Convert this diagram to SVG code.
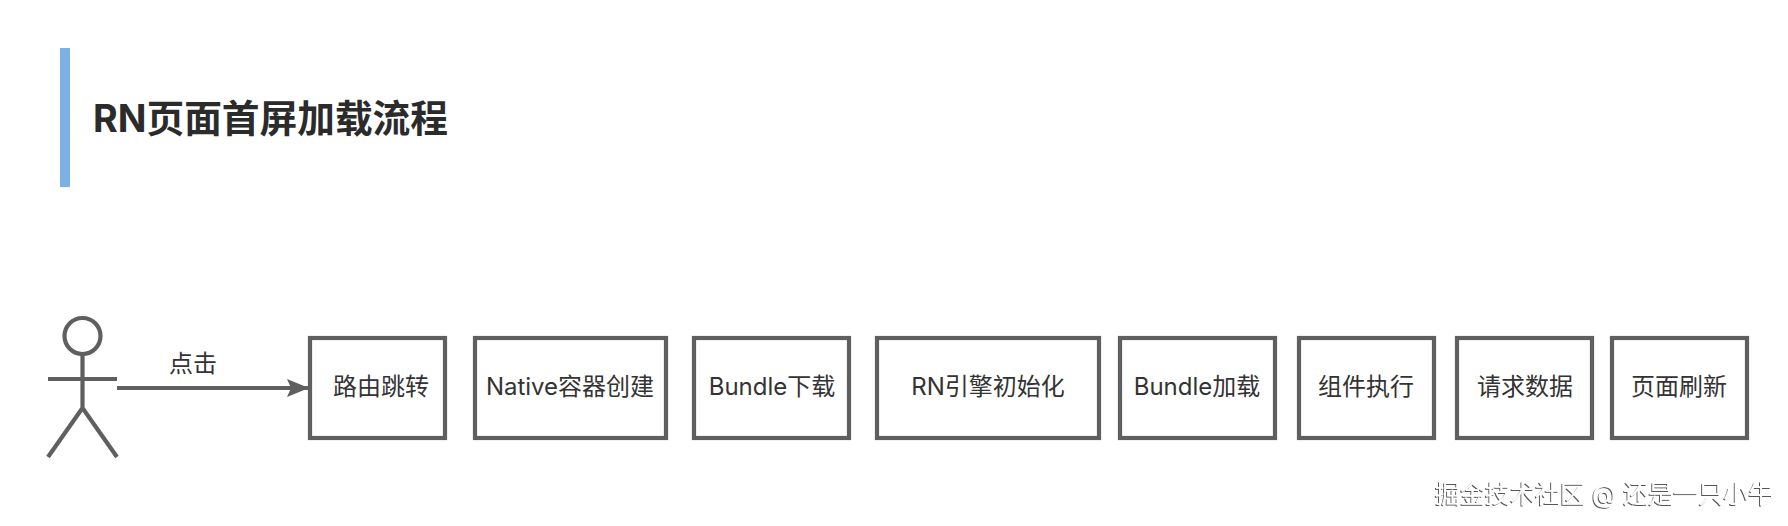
<svg xmlns="http://www.w3.org/2000/svg" width="1788" height="526" viewBox="0 0 1788 526">
<style>
text{font-family:"Inter","Noto Sans CJK SC",sans-serif;fill:#333;font-size:24px}
.t{text-anchor:middle}
.b{fill:#fff;stroke:#5f5f5f;stroke-width:4.2}
.l{fill:none;stroke:#5f5f5f;stroke-width:4.2}
</style>
<defs>
<marker id="a" markerUnits="userSpaceOnUse" markerWidth="24" markerHeight="20" refX="22" refY="10" orient="auto"><path d="M0 1L22 10L0 19L4 10Z" fill="#5f5f5f"/></marker>
<filter id="s" x="-5%" y="-20%" width="110%" height="140%"><feDropShadow dx="-1" dy="1" stdDeviation="0.6" flood-color="#555"/></filter>
</defs>
<rect id="title-bar" x="60" y="48" width="10" height="139" fill="#7db1e5"/>
<g id="title"><text x="93" y="132" style="font-size:37.700px;font-weight:700;fill:#2b2b2b">RN页面首屏加载流程</text></g>
<g id="actor" class="l">
<circle cx="82.500" cy="336" r="18"/>
<path d="M82.500 354V408M48 379H117M82.500 408L48 457M82.500 408L117 457"/>
</g>
<g id="connectors"><path class="l" d="M117 388H309" marker-end="url(#a)"/><text x="193" y="372" class="t">点击</text></g>
<g id="n1"><rect class="b" x="310" y="338" width="135" height="100"/><text class="t" x="381" y="395">路由跳转</text></g>
<g id="n2"><rect class="b" x="475" y="338" width="191" height="100"/><text class="t" x="570" y="395">Native容器创建</text></g>
<g id="n3"><rect class="b" x="694" y="338" width="155" height="100"/><text class="t" x="772" y="395">Bundle下载</text></g>
<g id="n4"><rect class="b" x="877" y="338" width="222" height="100"/><text class="t" x="988" y="395">RN引擎初始化</text></g>
<g id="n5"><rect class="b" x="1120" y="338" width="155" height="100"/><text class="t" x="1197" y="395">Bundle加载</text></g>
<g id="n6"><rect class="b" x="1299" y="338" width="135" height="100"/><text class="t" x="1366" y="395">组件执行</text></g>
<g id="n7"><rect class="b" x="1457" y="338" width="135" height="100"/><text class="t" x="1525" y="395">请求数据</text></g>
<g id="n8"><rect class="b" x="1612" y="338" width="135" height="100"/><text class="t" x="1679" y="395">页面刷新</text></g>
<g id="watermark"><text x="1435" y="503" style="fill:#fff;font-size:25px" filter="url(#s)">掘金技术社区 @ 还是一只小牛</text></g>
</svg>
